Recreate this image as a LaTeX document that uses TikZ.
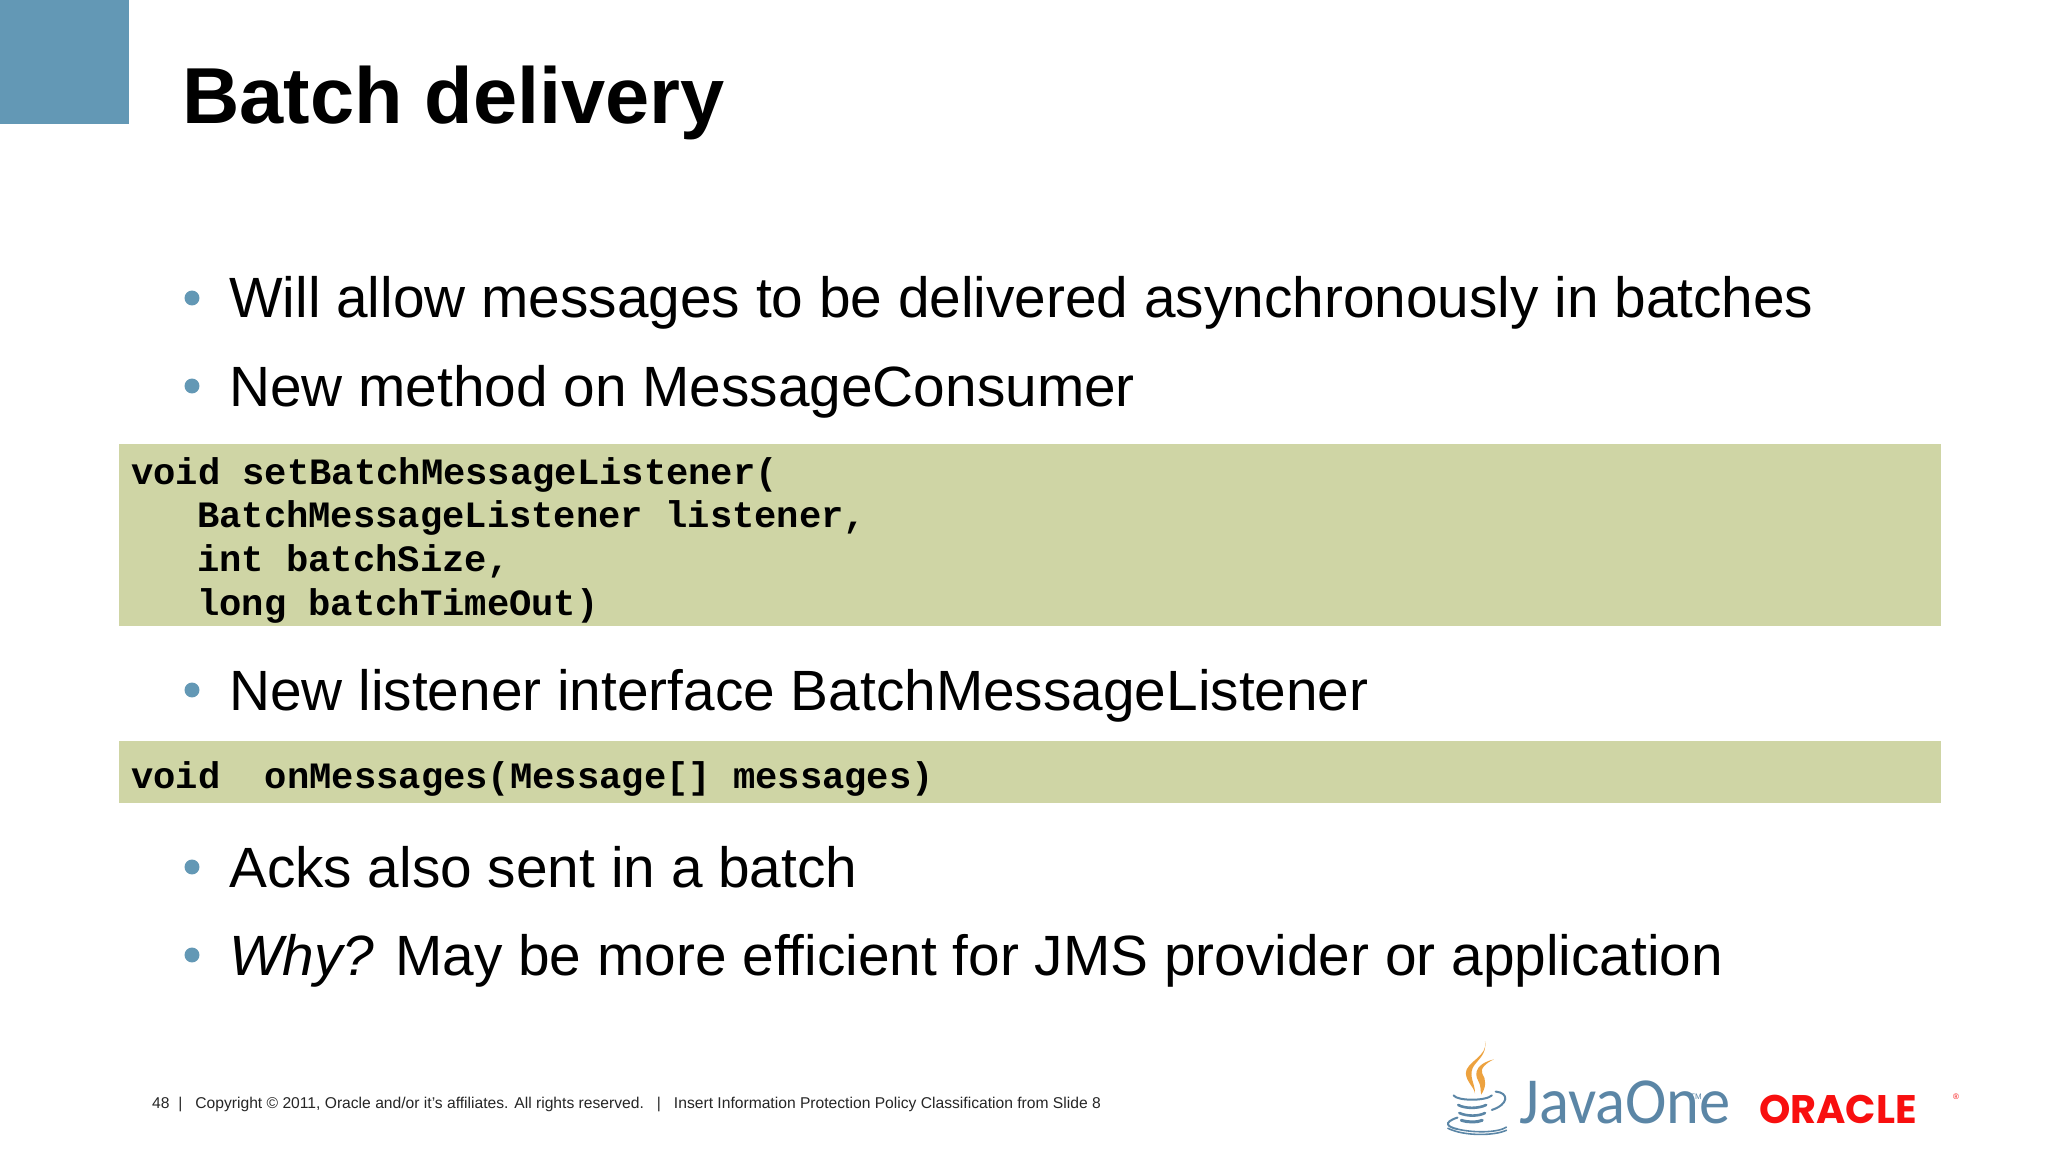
\documentclass[tikz,border=0pt]{standalone}
\usepackage{fontspec}
\setmainfont{Liberation Sans}
\setmonofont{Liberation Mono}
\newfontfamily\jfont{Carlito}
\newfontfamily\ofont{Poppins}
\definecolor{blu}{HTML}{6398B5}
\definecolor{ol}{HTML}{CFD5A5}
\definecolor{orared}{HTML}{F80F0F}
\definecolor{jblue}{HTML}{5B86A6}
\definecolor{jor}{HTML}{EDA23F}
\tikzset{
 px/.style={x=0.0352778cm,y=-0.0352778cm},
 bul/.style={anchor=base west,font=\fontsize{57}{57}\selectfont,inner sep=0,text=black},
 dot/.style={circle,fill=blu,minimum size=15,inner sep=0},
 code/.style={anchor=base west,font=\ttfamily\bfseries\fontsize{37.3}{37.3}\selectfont,inner sep=0,text=black},
 foot/.style={anchor=base west,font=\fontsize{15.7}{15.7}\selectfont,inner sep=0,text=black!85},
 cupline/.style={draw=jblue,line width=1.6,line cap=round}
}
\begin{document}
\begin{tikzpicture}[px]
\useasboundingbox (0,0) rectangle (2048,1152);
\fill[white] (0,0) rectangle (2048,1152);
\fill[blu] (0,0) rectangle (129,124);
\node[anchor=base west,inner sep=0,font=\bfseries\fontsize{79.7}{79.7}\selectfont] (title) at (182,124) {Batch delivery};
\foreach \n/\y in {a/298,b/386,c/690,d/867,e/955}{\node[dot] (dot\n) at (192,\y) {};}
\node[bul] (ta) at (229,318) {Will allow messages to be delivered asynchronously in batches};
\node[bul] (tb) at (229,406) {New method on MessageConsumer};
\fill[ol] (119,444) rectangle (1941,626);
\node[code] (c1) at (131,484) {void setBatchMessageListener(};
\node[code] (c2) at (197,527) {BatchMessageListener listener,};
\node[code] (c3) at (197,571) {int batchSize,};
\node[code] (c4) at (197,615) {long batchTimeOut)};
\node[bul] (tc) at (229,710) {New listener interface BatchMessageListener};
\fill[ol] (119,741) rectangle (1941,803);
\node[code] (c5) at (131,788) {void\ \ onMessages(Message[] messages)};
\node[bul] (td) at (229,887) {Acks also sent in a batch};
\node[bul] (te) at (229,975) {\textit{Why?} May be more efficient for JMS provider or application};
\node[foot] (f1) at (152,1108) {48\ \ |\ \ \ Copyright © 2011, Oracle and/or it’s affiliates. All rights reserved.\ \ \ |\ \ \ Insert Information Protection Policy Classification from Slide 8};
\node[anchor=base west,inner sep=0,font=\jfont\fontsize{66}{66}\selectfont,text=jblue,xscale=0.95,transform shape] (java) at (1519,1123) {JavaOne};
\node[anchor=base west,inner sep=0,font=\fontsize{8}{8}\selectfont,text=jblue] (tm) at (1690,1099) {TM};
\node[anchor=base west,inner sep=0,font=\ofont\bfseries\fontsize{40}{40}\selectfont,text=orared] (ora) at (1759,1123) {ORACLE};
\node[anchor=base west,inner sep=0,font=\fontsize{8}{8}\selectfont,text=orared] (reg) at (1953,1099) {®};
\begin{scope}[shift={(1400,1020)},scale=0.3827]
\fill[jor] (222,55) .. controls (232,95) and (170,110) .. (172,140) .. controls (175,165) and (192,172) .. (196,192) .. controls (196,165) and (180,150) .. (190,125) .. controls (200,105) and (228,92) .. (222,55) -- cycle;
\fill[jor] (245,103) .. controls (205,112) and (190,135) .. (205,160) .. controls (212,172) and (210,185) .. (212,195) .. controls (226,175) and (225,155) .. (215,140) .. controls (208,128) and (225,112) .. (245,103) -- cycle;
\draw[cupline,line width=2] (140,197) .. controls (150,212) and (225,212) .. (240,197);
\draw[cupline,line width=2] (250,187) .. controls (285,190) and (285,220) .. (240,235);
\draw[cupline,line width=2.6] (152,222) .. controls (170,232) and (205,232) .. (225,222);
\draw[cupline,line width=2.6] (155,243) .. controls (175,252) and (205,252) .. (222,243);
\draw[cupline,line width=3] (160,262) .. controls (180,268) and (200,268) .. (215,262);
\draw[cupline,line width=2] (150,255) .. controls (110,268) and (125,280) .. (150,285);
\draw[cupline,line width=1.6] (150,285) .. controls (190,295) and (255,295) .. (278,280);
\draw[cupline,line width=1.6] (125,283) .. controls (170,305) and (250,302) .. (278,288);
\end{scope}
\end{tikzpicture}
\end{document}
